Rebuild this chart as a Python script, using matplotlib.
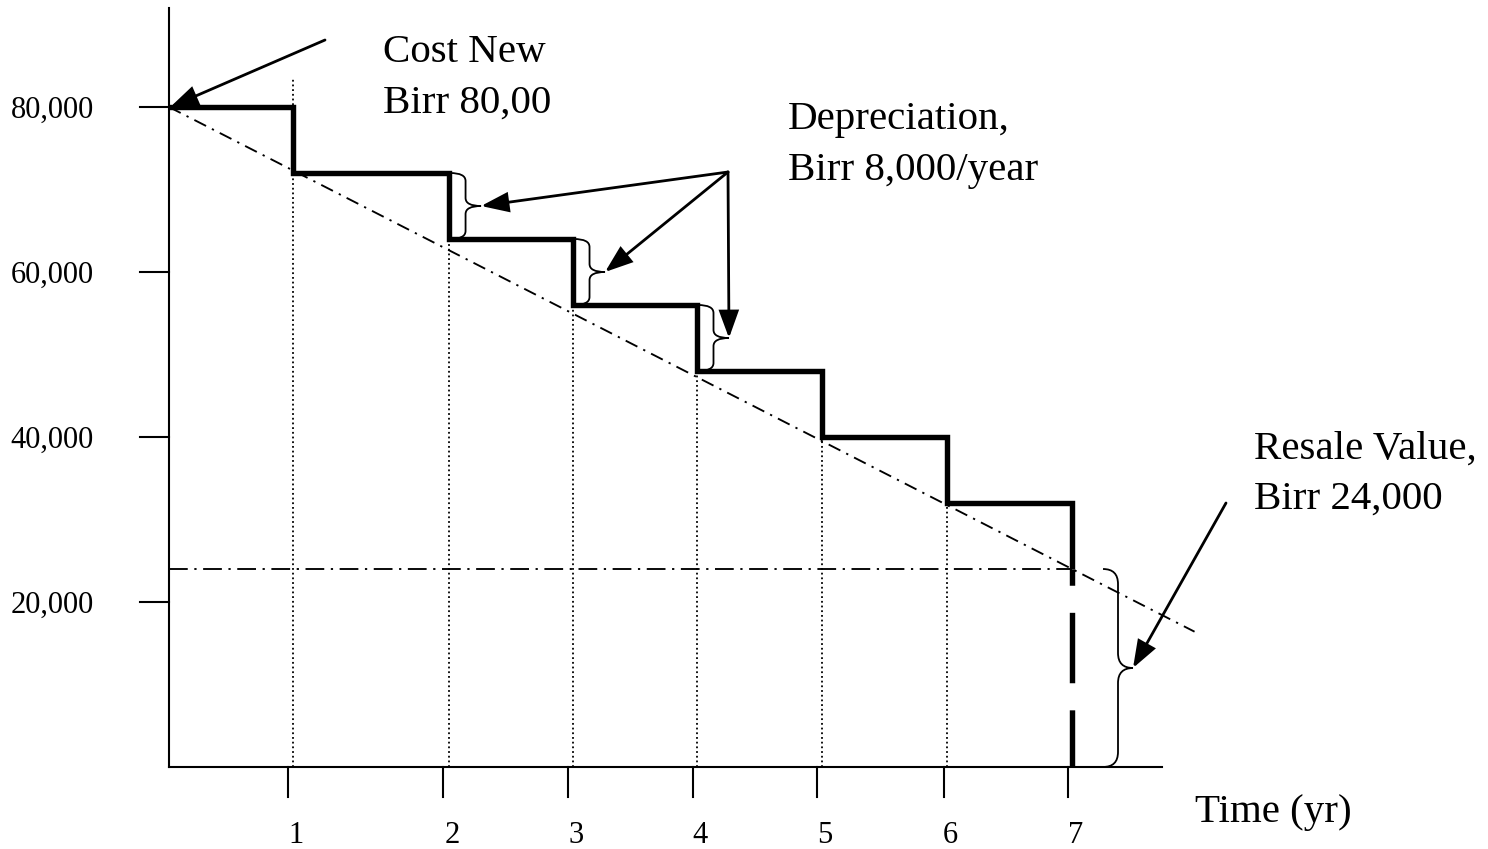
import matplotlib
matplotlib.use("Agg")
import matplotlib.pyplot as plt
from matplotlib.path import Path
from matplotlib.patches import PathPatch, FancyArrowPatch

plt.rcParams["font.family"] = ["Liberation Serif", "DejaVu Serif"]

# values
years = [1, 2, 3, 4, 5, 6, 7]
year_pos = [0.961, 2.171, 3.132, 4.093, 5.062, 6.031, 7.0]   # where each step drops
tick_pos = [0.922, 2.124, 3.093, 4.062, 5.023, 6.008, 6.969]
book_value = [80000, 72000, 64000, 56000, 48000, 40000, 32000, 24000]
dotted_top = [83600, 64000, 56000, 48000, 40000, 32000]
resale_value = 24000
straight_x = [0, 7.95]
straight_y = [80000, 16400]
y_ticks = [20000, 40000, 60000, 80000]
y_tick_labels = ["20,000", "40,000", "60,000", "80,000"]
brace_years = [2, 3, 4]

# mapping from reference pixels to data units (layout only)
X0, Y0 = 169, 767
SX, SY = 129.0, 0.00825


def px_x(x):
    return (x - X0) / SX


def px_y(y):
    return (Y0 - y) / SY


def brace(ax, x0, y_top, y_bot, w, r, lw=1.3):
    xm = x0 + w / 2
    ymid = (y_top + y_bot) / 2
    verts = [(x0, y_top), (xm, y_top), (xm, y_top - r),
             (xm, ymid + r), (xm, ymid), (x0 + w, ymid),
             (xm, ymid), (xm, ymid - r),
             (xm, y_bot + r), (xm, y_bot), (x0, y_bot)]
    codes = [Path.MOVETO, Path.CURVE3, Path.CURVE3,
             Path.LINETO, Path.CURVE3, Path.CURVE3,
             Path.CURVE3, Path.CURVE3,
             Path.LINETO, Path.CURVE3, Path.CURVE3]
    ax.add_patch(PathPatch(Path(verts, codes), fill=False, lw=lw,
                           color="black", clip_on=False))
    return x0 + w, ymid


def arrow(ax, tail, tip, lw=2.0):
    ax.add_patch(FancyArrowPatch(
        tail, tip, arrowstyle="-|>,head_length=1.65,head_width=0.6",
        mutation_scale=10, lw=lw, color="black", shrinkA=0, shrinkB=0,
        joinstyle="miter", clip_on=False))


fig = plt.figure(figsize=(14.88, 8.49), dpi=100)
ax = fig.add_axes([0, 0, 1, 1])
ax.set_xlim(px_x(0), px_x(1488))
ax.set_ylim(px_y(849), px_y(0))
ax.axis("off")

# axes drawn by hand
ax.plot([0, 0], [0, px_y(8)], color="black", lw=1.5)
ax.plot([0, px_x(1162)], [0, 0], color="black", lw=1.5)
for v, lab in zip(y_ticks, y_tick_labels):
    ax.plot([px_x(140), 0], [v, v], color="black", lw=1.5)
    ax.annotate(lab, (px_x(94), v), xytext=(0, -7.5), textcoords="offset points",
                ha="right", va="baseline", fontsize=22)
for t, p, yr in zip(tick_pos, year_pos, years):
    ax.plot([t, t], [0, px_y(797)], color="black", lw=1.5)
    ax.text(p + 0.025, px_y(843), str(yr), ha="center", va="baseline", fontsize=22)

# dotted verticals
for p, top in zip(year_pos[:-1], dotted_top):
    ax.plot([p, p], [0, top], color="black", lw=1.3, linestyle=(0, (1, 1.6)))

# straight-line depreciation and resale level
ax.plot(straight_x, straight_y, color="black", lw=1.35,
        linestyle=(0, (7, 3.5, 1.2, 3.5)), clip_on=False)
ax.plot([0, year_pos[-1]], [resale_value, resale_value], color="black", lw=1.35,
        linestyle=(0, (10, 3.5, 1.2, 3.5)))

# stepped book value
ax.step([0] + year_pos, book_value, where="post", color="black", lw=3.9,
        solid_joinstyle="miter", solid_capstyle="butt")
ax.plot([year_pos[-1], year_pos[-1]], [resale_value, 0], color="black", lw=3.9,
        linestyle=(10, (13, 5)), dash_capstyle="butt")

# braces and arrows
w_small = 31 / SX
r_small = 8 / SY
dep_tail = (px_x(728), px_y(172))
for yr in brace_years:
    i = years.index(yr)
    tip = brace(ax, year_pos[i] + 1 / SX, book_value[i], book_value[i + 1],
                w_small, r_small)
    arrow(ax, dep_tail, tip)

big_tip = brace(ax, px_x(1103), resale_value, 0, 30 / SX, 15 / SY)
arrow(ax, (px_x(1226), px_y(503)), big_tip)
arrow(ax, (px_x(325), px_y(40)), (0.01, book_value[0]))

# labels
fs = 29.5
ax.text(px_x(383), px_y(62), "Cost New", fontsize=fs, va="baseline")
ax.text(px_x(383), px_y(113), "Birr 80,00", fontsize=fs, va="baseline")
ax.text(px_x(788), px_y(129), "Depreciation,", fontsize=fs, va="baseline")
ax.text(px_x(788), px_y(180), "Birr 8,000/year", fontsize=fs, va="baseline")
ax.text(px_x(1254), px_y(459), "Resale Value,", fontsize=fs, va="baseline")
ax.text(px_x(1254), px_y(509), "Birr 24,000", fontsize=fs, va="baseline")
ax.text(px_x(1195), px_y(822), "Time (yr)", fontsize=fs, va="baseline")

fig.savefig("out.png", dpi=100, facecolor="white")
